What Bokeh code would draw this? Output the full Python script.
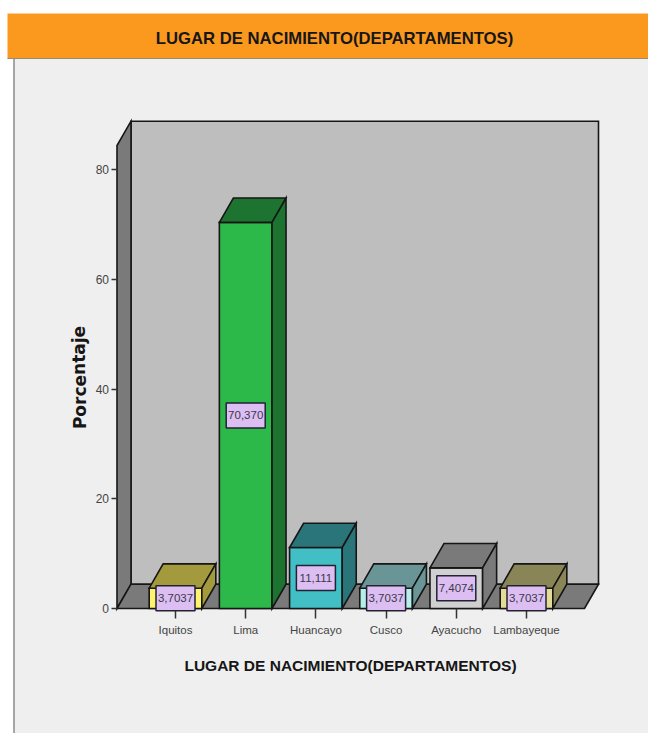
from bokeh.plotting import figure
from bokeh.embed import file_html
from bokeh.resources import INLINE
from bokeh.core.properties import value
from bokeh.models import Range1d, LinearAxis, FixedTicker

categories = ["Iquitos", "Lima", "Huancayo", "Cusco", "Ayacucho", "Lambayeque"]
percentages = [3.7037, 70.370, 11.111, 3.7037, 7.4074, 3.7037]
value_labels = ["3,7037", "70,370", "11,111", "3,7037", "7,4074", "3,7037"]
y_ticks = [0, 20, 40, 60, 80]
front_colors = ["#FFF36B", "#2DB84A", "#41BFC4", "#B6EEEA", "#D0D0D0", "#E4DC96"]
shade_colors = ["#A39A3E", "#1C7430", "#2A7579", "#6A9596", "#7A7A7A", "#8A8556"]

title_text = "LUGAR DE NACIMIENTO(DEPARTAMENTOS)"
y_title = "Porcentaje"

PX_PER_CAT = 70.2
PX_PER_VAL = 5.4875
X0, Y0 = 175.0, 608.0
def X(px): return (px - X0) / PX_PER_CAT
def Y(py): return (Y0 - py) / PX_PER_VAL

W, H = 648, 733
DX = 14.0 / PX_PER_CAT
DY = 24.3 / PX_PER_VAL
BAR = 0.75
LEFT, RIGHT = X(116.5), X(584.0)
TOP = Y(145.0)
DARK = "#161616"
FONT = "Liberation Sans"

p = figure(width=W, height=H, output_backend="svg", toolbar_location=None,
           x_range=Range1d(X(0), X(W)), y_range=Range1d(Y(H), Y(0)),
           min_border=0, outline_line_color=None, x_axis_type=None, y_axis_type=None,
           background_fill_color="#FFFFFF", border_fill_color="#FFFFFF")
p.grid.visible = False

# page furniture
p.quad(left=X(14), right=X(648), bottom=Y(733), top=Y(58), fill_color="#EFEFEF", line_color=None)
p.segment(X(13.5), Y(58), X(13.5), Y(733), line_color="#8A8A8A", line_width=1.5)
p.quad(left=X(7), right=X(648), bottom=Y(58), top=Y(13), fill_color="#FB991F", line_color=None)
p.segment(X(7), Y(58), X(648), Y(58), line_color="#9A8A70", line_width=1)

# walls and floor
wall = dict(line_color=DARK, line_width=1.6, line_join="miter")
p.patch([LEFT + DX, RIGHT + DX, RIGHT + DX, LEFT + DX], [DY, DY, TOP + DY, TOP + DY], fill_color="#BEBEBE", **wall)
p.patch([LEFT, LEFT + DX, LEFT + DX, LEFT], [0, DY, TOP + DY, TOP], fill_color="#7A7A7A", **wall)
p.patch([LEFT, RIGHT, RIGHT + DX, LEFT + DX], [0, 0, DY, DY], fill_color="#7A7A7A", **wall)

# bars
for i, v in enumerate(percentages):
    l, r = i - BAR / 2, i + BAR / 2
    p.patch([l, r, r, l], [0, 0, v, v], fill_color=front_colors[i], **wall)
    p.patch([l, r, r + DX, l + DX], [v, v, v + DY, v + DY], fill_color=shade_colors[i], **wall)
    p.patch([r, r + DX, r + DX, r], [0, DY, v + DY, v], fill_color=shade_colors[i], **wall)

# axes
yax = LinearAxis(fixed_location=LEFT, ticker=FixedTicker(ticks=y_ticks))
yax.axis_line_color = None
yax.major_tick_in = 0
yax.major_tick_out = 6
yax.minor_tick_line_color = None
yax.major_tick_line_color = "#333333"
yax.major_tick_line_width = 1.5
yax.major_label_standoff = 2
yax.major_label_text_font = FONT
yax.major_label_text_font_size = "12px"
yax.major_label_text_color = "#444444"
p.add_layout(yax, "left")

xax = LinearAxis(fixed_location=0, ticker=FixedTicker(ticks=list(range(len(categories)))),
                 major_label_overrides={i: c for i, c in enumerate(categories)})
xax.axis_line_color = None
xax.major_tick_in = 0
xax.major_tick_out = 10
xax.minor_tick_line_color = None
xax.major_tick_line_color = "#333333"
xax.major_tick_line_width = 1.5
xax.major_label_standoff = 5
xax.major_label_text_font = FONT
xax.major_label_text_font_size = "11.5px"
xax.major_label_text_color = "#444444"
p.add_layout(xax, "below")

# value boxes
xs = list(range(len(categories)))
ys = [v / 2 for v in percentages]
p.rect(xs, ys, width=39, height=25, width_units="screen", height_units="screen",
       fill_color="#DCBEF2", line_color="#222233", line_width=1.5, level="annotation")
p.text(xs, ys, text=value_labels, text_align="center", text_baseline="middle",
       text_font=value(FONT), text_font_size="11.5px", text_color="#3A3A4A", level="annotation")

# titles
p.text([X(334)], [Y(38)], text=[title_text], text_align="center", text_baseline="middle",
       text_font=value(FONT), text_font_size="16.7px", text_font_style="bold", text_color="#161616")
p.text([X(350)], [Y(665)], text=[title_text], text_align="center", text_baseline="middle",
       text_font=value(FONT), text_font_size="15.5px", text_font_style="bold", text_color="#161616")
p.text([X(79)], [Y(377)], text=[y_title], angle=1.5708, text_align="center", text_baseline="middle",
       text_font=value("DejaVu Sans"), text_font_size="17px", text_font_style="bold", text_color="#161616")

open("out.html", "w").write(file_html(p, INLINE))
